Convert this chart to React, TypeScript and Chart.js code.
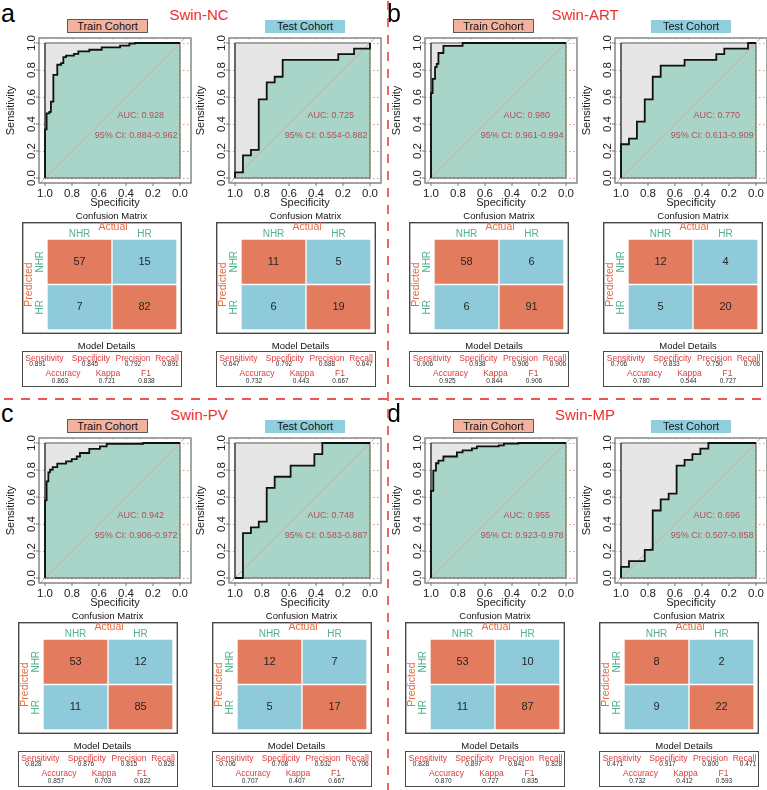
import React, { useEffect, useRef } from 'react';
import { Chart, registerables } from 'chart.js';

Chart.register(...registerables);

const FONT = '"Liberation Sans", Arial, Helvetica, sans-serif';

// ---- ROC axes (specificity runs 1 -> 0) ----
const X_MIN = -0.0815;
const X_MAX = 1.0444;
const Y_MIN = -0.037;
const Y_MAX = 1.037;
const UNIT = [0, 1];
const SPEC_TICKS = [1, 0.8, 0.6, 0.4, 0.2, 0];
const SPEC_LABELS = ['1.0', '0.8', '0.6', '0.4', '0.2', '0.0'];
const SENS_TICKS = [0, 0.2, 0.4, 0.6, 0.8, 1];
const SENS_LABELS = ['0.0', '0.2', '0.4', '0.6', '0.8', '1.0'];
const SPEC_GRID = [0, 0.1, 0.2, 0.3, 0.4, 0.5, 0.6, 0.7, 0.8, 0.9, 1];
const AUC_AT = [0.29, 0.465];
const CI_AT = [0.325, 0.315];

// ---- ROC curves: at each specificity the curve rises to the listed sensitivity ----
const NC_TRAIN_SPEC = [1, 1, 0.988, 0.968, 0.956, 0.938, 0.909, 0.881, 0.864, 0.844, 0.785, 0.753, 0.672, 0.58, 0.444, 0.375, 0.333, 0];
const NC_TRAIN_SENS = [0, 0.36, 0.479, 0.49, 0.566, 0.764, 0.839, 0.851, 0.896, 0.906, 0.92, 0.938, 0.95, 0.968, 0.98, 0.995, 1, 1];
const NC_TEST_SPEC = [1, 1, 0.941, 0.882, 0.824, 0.765, 0.706, 0.647, 0.235, 0.118, 0];
const NC_TEST_SENS = [0, 0.042, 0.167, 0.208, 0.583, 0.708, 0.75, 0.875, 0.917, 0.958, 1];

const ART_TRAIN_SPEC = [1, 1, 0.988, 0.97, 0.958, 0.945, 0.908, 0.766, 0];
const ART_TRAIN_SENS = [0, 0.628, 0.734, 0.821, 0.846, 0.926, 0.978, 1, 1];
const ART_TEST_SPEC = [1, 1, 0.941, 0.882, 0.824, 0.765, 0.706, 0.529, 0.294, 0.235, 0.059, 0];
const ART_TEST_SENS = [0, 0.25, 0.292, 0.417, 0.583, 0.75, 0.833, 0.875, 0.917, 0.958, 1, 1];

const PV_TRAIN_SPEC = [1, 1, 0.988, 0.975, 0.963, 0.943, 0.909, 0.844, 0.802, 0.765, 0.741, 0.672, 0.593, 0.543, 0.272, 0];
const PV_TRAIN_SENS = [0, 0.575, 0.716, 0.783, 0.802, 0.822, 0.847, 0.864, 0.881, 0.9, 0.926, 0.956, 0.975, 0.993, 1, 1];
const PV_TEST_SPEC = [1, 0.941, 0.882, 0.824, 0.765, 0.706, 0.588, 0.412, 0.353, 0];
const PV_TEST_SENS = [0, 0.333, 0.375, 0.417, 0.667, 0.75, 0.833, 0.917, 1, 1];

const MP_TRAIN_SPEC = [1, 1, 0.983, 0.963, 0.945, 0.908, 0.808, 0.766, 0.697, 0.66, 0.498, 0.46, 0.353, 0];
const MP_TRAIN_SENS = [0, 0.645, 0.795, 0.85, 0.87, 0.9, 0.93, 0.945, 0.96, 0.975, 0.983, 0.995, 1, 1];
const MP_TEST_SPEC = [1, 1, 0.941, 0.824, 0.765, 0.706, 0.647, 0.588, 0.529, 0.471, 0.412, 0.353, 0];
const MP_TEST_SENS = [0, 0.083, 0.125, 0.208, 0.5, 0.583, 0.625, 0.833, 0.875, 0.917, 0.958, 1, 1];

// ---- AUC with 95% CI: [train, test] ----
const NC_AUC = [0.928, 0.725];
const NC_CI = [[0.884, 0.962], [0.554, 0.882]];
const ART_AUC = [0.98, 0.77];
const ART_CI = [[0.961, 0.994], [0.613, 0.909]];
const PV_AUC = [0.942, 0.748];
const PV_CI = [[0.906, 0.972], [0.583, 0.887]];
const MP_AUC = [0.955, 0.696];
const MP_CI = [[0.923, 0.978], [0.507, 0.858]];

// ---- confusion matrices, row-major: predicted (rows) x actual (cols) ----
const MATRIX_CLASSES = ['NHR', 'HR'];
const NC_TRAIN_CM = [57, 15, 7, 82];
const NC_TEST_CM = [11, 5, 6, 19];
const ART_TRAIN_CM = [58, 6, 6, 91];
const ART_TEST_CM = [12, 4, 5, 20];
const PV_TRAIN_CM = [53, 12, 11, 85];
const PV_TEST_CM = [12, 7, 5, 17];
const MP_TRAIN_CM = [53, 10, 11, 87];
const MP_TEST_CM = [8, 2, 9, 22];

// ---- model details ----
const METRIC_NAMES = ['Sensitivity', 'Specificity', 'Precision', 'Recall', 'Accuracy', 'Kappa', 'F1'];
const NC_TRAIN_METRICS = [0.891, 0.845, 0.792, 0.891, 0.863, 0.721, 0.838];
const NC_TEST_METRICS = [0.647, 0.792, 0.688, 0.647, 0.732, 0.443, 0.667];
const ART_TRAIN_METRICS = [0.906, 0.938, 0.906, 0.906, 0.925, 0.844, 0.906];
const ART_TEST_METRICS = [0.706, 0.833, 0.75, 0.706, 0.78, 0.544, 0.727];
const PV_TRAIN_METRICS = [0.828, 0.876, 0.815, 0.828, 0.857, 0.703, 0.822];
const PV_TEST_METRICS = [0.706, 0.708, 0.632, 0.706, 0.707, 0.407, 0.667];
const MP_TRAIN_METRICS = [0.828, 0.897, 0.841, 0.828, 0.87, 0.727, 0.835];
const MP_TEST_METRICS = [0.471, 0.917, 0.8, 0.471, 0.732, 0.412, 0.593];

// ---- colours ----
const AUC_FILL = '#a9d5c8';
const MAX_AUC_FILL = '#e6e6e6';
const CURVE = '#111111';
const DIAGONAL = '#bab3b3';
const SQUARE_EDGE = '#555555';
const GRID_RED = '#ef8585';
const GRID_GREEN = '#cddb8c';
const FRAME = '#8e8e8e';
const AUC_TEXT = '#b24e58';
const HIT = '#e37b5e';
const MISS = '#8fcadb';
const CLASS_TEXT = '#52b08c';
const AXIS_ORANGE = '#ea6a40';
const TRAIN_TAG = '#f2b39e';
const TEST_TAG = '#90cede';
const TITLE_RED = '#f22b2b';
const METRIC_RED = '#dc3b3b';
const DASH = '#ef5555';

// metric table layout (relative to table box)
const METRIC_LABEL_X = [22, 68.5, 110.5, 144.5, 40.5, 85.5, 123.5];
const METRIC_VALUE_X = [15, 67.5, 110.5, 148, 37.5, 84.5, 124];
const METRIC_LABEL_Y = [6, 6, 6, 6, 21.5, 21.5, 21.5];
const METRIC_VALUE_Y = [12.5, 12.5, 12.5, 12.5, 29, 29, 29];

function cohort(spec, sens, auc, ci, cm, metrics) {
  return { spec, sens, auc, ci, cm, metrics };
}

const PANELS = [
  {
    letter: 'a', title: 'Swin-NC', x: 0, y: 0, mx: 21.5,
    train: cohort(NC_TRAIN_SPEC, NC_TRAIN_SENS, NC_AUC[0], NC_CI[0], NC_TRAIN_CM, NC_TRAIN_METRICS),
    test: cohort(NC_TEST_SPEC, NC_TEST_SENS, NC_AUC[1], NC_CI[1], NC_TEST_CM, NC_TEST_METRICS),
  },
  {
    letter: 'b', title: 'Swin-ART', x: 386, y: 0, mx: 23,
    train: cohort(ART_TRAIN_SPEC, ART_TRAIN_SENS, ART_AUC[0], ART_CI[0], ART_TRAIN_CM, ART_TRAIN_METRICS),
    test: cohort(ART_TEST_SPEC, ART_TEST_SENS, ART_AUC[1], ART_CI[1], ART_TEST_CM, ART_TEST_METRICS),
  },
  {
    letter: 'c', title: 'Swin-PV', x: 0, y: 400, mx: 17.5,
    train: cohort(PV_TRAIN_SPEC, PV_TRAIN_SENS, PV_AUC[0], PV_CI[0], PV_TRAIN_CM, PV_TRAIN_METRICS),
    test: cohort(PV_TEST_SPEC, PV_TEST_SENS, PV_AUC[1], PV_CI[1], PV_TEST_CM, PV_TEST_METRICS),
  },
  {
    letter: 'd', title: 'Swin-MP', x: 386, y: 400, mx: 19,
    train: cohort(MP_TRAIN_SPEC, MP_TRAIN_SENS, MP_AUC[0], MP_CI[0], MP_TRAIN_CM, MP_TRAIN_METRICS),
    test: cohort(MP_TEST_SPEC, MP_TEST_SENS, MP_AUC[1], MP_CI[1], MP_TEST_CM, MP_TEST_METRICS),
  },
];

function RocPlot({ left, top, spec, sens, auc, ci }) {
  const ref = useRef(null);
  useEffect(() => {
    const curve = spec.map((v, i) => ({ x: v, y: sens[i] }));
    const decor = {
      id: 'rocDecor',
      beforeDatasetsDraw(chart) {
        const { ctx, chartArea: a, scales } = chart;
        const xs = scales.x;
        const ys = scales.y;
        ctx.save();
        ctx.lineWidth = 1;
        ctx.setLineDash([1.5, 2.5]);
        ctx.strokeStyle = GRID_GREEN;
        SPEC_GRID.forEach((v) => {
          const px = Math.round(xs.getPixelForValue(v)) + 0.5;
          ctx.beginPath();
          ctx.moveTo(px, a.top);
          ctx.lineTo(px, a.bottom);
          ctx.stroke();
        });
        ctx.strokeStyle = GRID_RED;
        SENS_TICKS.forEach((v) => {
          const py = Math.round(ys.getPixelForValue(v)) + 0.5;
          ctx.beginPath();
          ctx.moveTo(a.left, py);
          ctx.lineTo(a.right, py);
          ctx.stroke();
        });
        ctx.restore();
      },
      afterDatasetsDraw(chart) {
        const { ctx, chartArea: a, scales } = chart;
        const xs = scales.x;
        const ys = scales.y;
        ctx.save();
        ctx.strokeStyle = FRAME;
        ctx.lineWidth = 1.6;
        ctx.strokeRect(a.left, a.top, a.right - a.left, a.bottom - a.top);
        ctx.lineWidth = 1;
        ctx.strokeStyle = '#777';
        ctx.beginPath();
        SPEC_TICKS.forEach((v) => {
          const px = xs.getPixelForValue(v);
          ctx.moveTo(px, a.bottom);
          ctx.lineTo(px, a.bottom + 3);
        });
        SENS_TICKS.forEach((v) => {
          const py = ys.getPixelForValue(v);
          ctx.moveTo(a.left, py);
          ctx.lineTo(a.left - 3, py);
        });
        ctx.stroke();

        ctx.fillStyle = '#222';
        ctx.textAlign = 'center';
        ctx.textBaseline = 'middle';
        ctx.font = `11.5px ${FONT}`;
        SPEC_TICKS.forEach((v, i) => {
          ctx.fillText(SPEC_LABELS[i], xs.getPixelForValue(v), a.bottom + 10.5);
        });
        SENS_TICKS.forEach((v, i) => {
          ctx.save();
          ctx.translate(a.left - 7.5, ys.getPixelForValue(v));
          ctx.rotate(-Math.PI / 2);
          ctx.fillText(SENS_LABELS[i], 0, 0);
          ctx.restore();
        });
        ctx.font = `11px ${FONT}`;
        ctx.fillText('Specificity', (a.left + a.right) / 2, a.bottom + 19.5);
        ctx.save();
        ctx.translate(a.left - 28, (a.top + a.bottom) / 2);
        ctx.rotate(-Math.PI / 2);
        ctx.fillText('Sensitivity', 0, 0);
        ctx.restore();

        ctx.fillStyle = AUC_TEXT;
        ctx.font = `9px ${FONT}`;
        ctx.fillText(`AUC: ${auc.toFixed(3)}`, xs.getPixelForValue(AUC_AT[0]), ys.getPixelForValue(AUC_AT[1]));
        ctx.fillText(
          `95% CI: ${ci[0].toFixed(3)}-${ci[1].toFixed(3)}`,
          xs.getPixelForValue(CI_AT[0]),
          ys.getPixelForValue(CI_AT[1])
        );
        ctx.restore();
      },
    };

    const chart = new Chart(ref.current, {
      type: 'line',
      data: {
        datasets: [
          {
            data: [{ x: UNIT[1], y: UNIT[1] }, { x: UNIT[0], y: UNIT[1] }],
            fill: 'origin',
            backgroundColor: MAX_AUC_FILL,
            borderColor: 'rgba(0,0,0,0)',
            borderWidth: 0,
            pointRadius: 0,
            order: 5,
          },
          {
            data: curve,
            stepped: 'before',
            fill: 'origin',
            backgroundColor: AUC_FILL,
            borderColor: 'rgba(0,0,0,0)',
            borderWidth: 0,
            pointRadius: 0,
            order: 4,
          },
          {
            data: [
              { x: UNIT[1], y: UNIT[0] },
              { x: UNIT[0], y: UNIT[0] },
              { x: UNIT[0], y: UNIT[1] },
              { x: UNIT[1], y: UNIT[1] },
              { x: UNIT[1], y: UNIT[0] },
            ],
            fill: false,
            borderColor: SQUARE_EDGE,
            borderWidth: 1,
            pointRadius: 0,
            order: 3,
          },
          {
            data: [{ x: X_MAX, y: 1 - X_MAX }, { x: X_MIN, y: 1 - X_MIN }],
            fill: false,
            borderColor: DIAGONAL,
            borderWidth: 1,
            pointRadius: 0,
            clip: 0,
            order: 2,
          },
          {
            data: curve,
            stepped: 'before',
            fill: false,
            borderColor: CURVE,
            borderWidth: 1.8,
            pointRadius: 0,
            order: 1,
          },
        ],
      },
      options: {
        animation: false,
        responsive: false,
        events: [],
        layout: { padding: { left: 39, top: 4, right: 4, bottom: 29 } },
        scales: {
          x: { type: 'linear', min: X_MIN, max: X_MAX, reverse: true, display: false },
          y: { type: 'linear', min: Y_MIN, max: Y_MAX, display: false },
        },
        plugins: { legend: { display: false }, tooltip: { enabled: false } },
      },
      plugins: [decor],
    });
    return () => chart.destroy();
  }, []);
  return <canvas ref={ref} width={195} height={178} style={{ position: 'absolute', left, top }} />;
}

function ConfusionMatrix({ left, top, counts }) {
  const ref = useRef(null);
  useEffect(() => {
    const n = MATRIX_CLASSES.length;
    const decor = {
      id: 'matrixDecor',
      afterDatasetsDraw(chart) {
        const { ctx, chartArea: a, scales } = chart;
        const xs = scales.x;
        const ys = scales.y;
        ctx.save();
        ctx.strokeStyle = '#474747';
        ctx.lineWidth = 1.4;
        ctx.strokeRect(0.7, 0.7, chart.width - 1.4, chart.height - 1.4);
        ctx.textAlign = 'center';
        ctx.textBaseline = 'middle';

        ctx.fillStyle = '#262626';
        ctx.font = `11px ${FONT}`;
        MATRIX_CLASSES.forEach((_, r) => {
          chart.getDatasetMeta(r).data.forEach((bar, c) => {
            const p = bar.getProps(['x', 'y', 'base'], true);
            ctx.fillText(String(counts[r * n + c]), p.x, (p.y + p.base) / 2);
          });
        });

        ctx.fillStyle = AXIS_ORANGE;
        ctx.font = `10.5px ${FONT}`;
        ctx.fillText('Actual', (a.left + a.right) / 2 + 1, a.top - 12);
        ctx.save();
        ctx.translate(a.left - 18, (a.top + a.bottom) / 2);
        ctx.rotate(-Math.PI / 2);
        ctx.fillText('Predicted', 0, 0);
        ctx.restore();

        ctx.fillStyle = CLASS_TEXT;
        ctx.font = `10px ${FONT}`;
        MATRIX_CLASSES.forEach((cls, c) => {
          ctx.fillText(cls, xs.getPixelForValue(c), a.top - 4.5);
        });
        MATRIX_CLASSES.forEach((cls, r) => {
          ctx.save();
          ctx.translate(a.left - 7, ys.getPixelForValue(n - r - 0.5));
          ctx.rotate(-Math.PI / 2);
          ctx.fillText(cls, 0, 0);
          ctx.restore();
        });
        ctx.restore();
      },
    };

    const chart = new Chart(ref.current, {
      type: 'bar',
      data: {
        labels: MATRIX_CLASSES,
        datasets: MATRIX_CLASSES.map((cls, r) => ({
          label: cls,
          data: MATRIX_CLASSES.map(() => [n - 1 - r, n - r]),
          backgroundColor: MATRIX_CLASSES.map((_, c) => (r === c ? HIT : MISS)),
          borderColor: '#ffffff',
          borderWidth: 1,
          borderSkipped: false,
          grouped: false,
          barPercentage: 1,
          categoryPercentage: 1,
        })),
      },
      options: {
        animation: false,
        responsive: false,
        events: [],
        layout: { padding: { left: 25, right: 5, top: 17, bottom: 4 } },
        scales: {
          x: { display: false },
          y: { display: false, min: 0, max: n },
        },
        plugins: { legend: { display: false }, tooltip: { enabled: false } },
      },
      plugins: [decor],
    });
    return () => chart.destroy();
  }, []);
  return <canvas ref={ref} width={160} height={112} style={{ position: 'absolute', left, top }} />;
}

function Txt({ x, y, size, color = '#111', children }) {
  const w = 240;
  return (
    <div
      style={{
        position: 'absolute',
        left: x - w / 2,
        top: y - size / 2,
        width: w,
        height: size,
        lineHeight: `${size}px`,
        fontSize: size,
        textAlign: 'center',
        color,
        whiteSpace: 'nowrap',
        fontFamily: FONT,
      }}
    >
      {children}
    </div>
  );
}

function Tag({ left, top, width, height, bg, border, children }) {
  return (
    <div
      style={{
        position: 'absolute',
        left,
        top,
        width,
        height,
        boxSizing: 'border-box',
        background: bg,
        border: border ? '1px solid #5a5a5a' : 'none',
        fontFamily: FONT,
        fontSize: 11,
        lineHeight: `${border ? height - 2 : height}px`,
        textAlign: 'center',
        color: '#111',
        whiteSpace: 'nowrap',
      }}
    >
      {children}
    </div>
  );
}

function MetricsTable({ left, top, values }) {
  return (
    <div
      style={{
        position: 'absolute',
        left,
        top,
        width: 160,
        height: 36,
        boxSizing: 'border-box',
        border: '1.3px solid #4a4a4a',
      }}
    >
      {METRIC_NAMES.map((name, i) => (
        <Txt key={name} x={METRIC_LABEL_X[i]} y={METRIC_LABEL_Y[i]} size={8.5} color={METRIC_RED}>
          {name}
        </Txt>
      ))}
      {values.map((v, i) => (
        <Txt key={`v${i}`} x={METRIC_VALUE_X[i]} y={METRIC_VALUE_Y[i]} size={6.5} color="#2a2a2a">
          {v.toFixed(3)}
        </Txt>
      ))}
    </div>
  );
}

function Cohort({ rocX, boxX, data }) {
  return (
    <>
      <RocPlot left={rocX} top={34} spec={data.spec} sens={data.sens} auc={data.auc} ci={data.ci} />
      <Txt x={boxX + 90} y={216} size={9.5}>
        Confusion Matrix
      </Txt>
      <ConfusionMatrix left={boxX} top={222} counts={data.cm} />
      <Txt x={boxX + 85} y={346} size={9.5}>
        Model Details
      </Txt>
      <MetricsTable left={boxX} top={351} values={data.metrics} />
    </>
  );
}

function Panel({ x, y, mx, letter, title, train, test }) {
  return (
    <div style={{ position: 'absolute', left: x, top: y, width: 386, height: 400 }}>
      <div
        style={{
          position: 'absolute',
          left: 1,
          top: 1,
          fontSize: 25,
          lineHeight: '25px',
          fontFamily: FONT,
          color: '#000',
        }}
      >
        {letter}
      </div>
      <Txt x={199} y={14.5} size={15} color={TITLE_RED}>
        {title}
      </Txt>
      <Tag left={67} top={19} width={81} height={14} bg={TRAIN_TAG} border>
        Train Cohort
      </Tag>
      <Tag left={265} top={20} width={80} height={13} bg={TEST_TAG}>
        Test Cohort
      </Tag>
      <Cohort rocX={0} boxX={mx} data={train} />
      <Cohort rocX={190} boxX={mx + 194} data={test} />
    </div>
  );
}

export default function App() {
  return (
    <div
      style={{
        position: 'absolute',
        left: 0,
        top: 0,
        width: 767,
        height: 790,
        background: '#ffffff',
        overflow: 'hidden',
        fontFamily: FONT,
      }}
    >
      {PANELS.map((p) => (
        <Panel key={p.letter} {...p} />
      ))}
      <svg width={767} height={790} style={{ position: 'absolute', left: 0, top: 0, pointerEvents: 'none' }}>
        <line x1={388} y1={0} x2={388} y2={790} stroke={DASH} strokeWidth={1.8} strokeDasharray="9 8" strokeDashoffset={-1} />
        <line x1={0} y1={399} x2={767} y2={399} stroke={DASH} strokeWidth={1.8} strokeDasharray="9 8" strokeDashoffset={-4} />
      </svg>
    </div>
  );
}
